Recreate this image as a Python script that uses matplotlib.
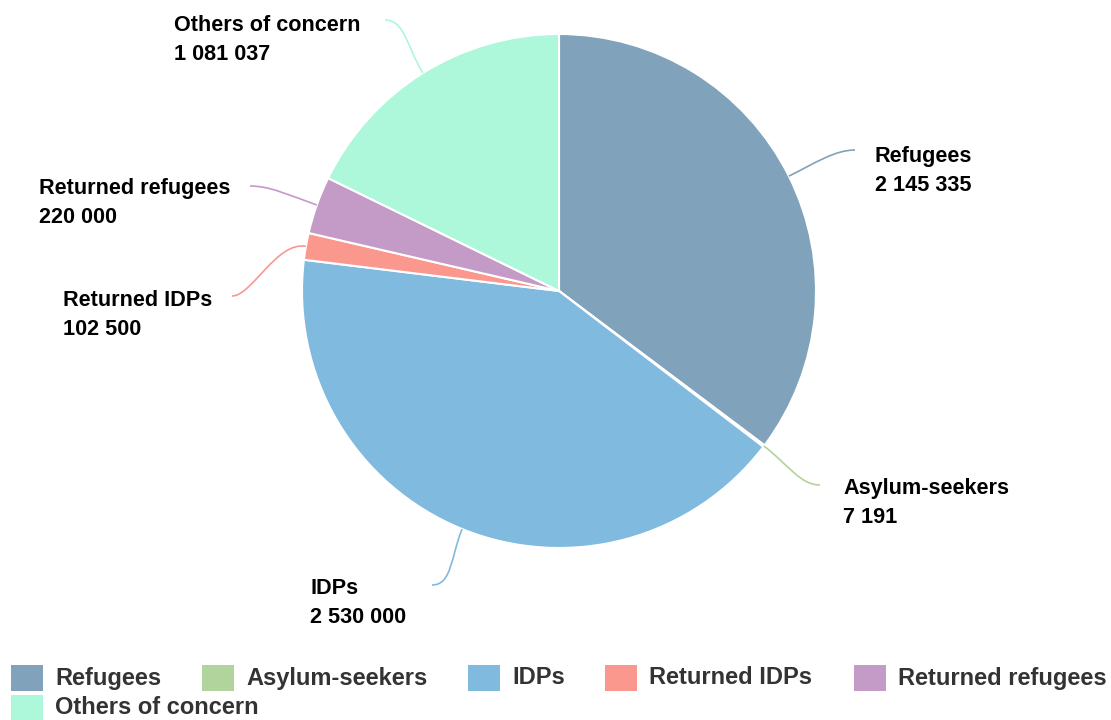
import numpy as np
import matplotlib
matplotlib.use("Agg")
import matplotlib.pyplot as plt
from matplotlib.path import Path
from matplotlib.patches import PathPatch, Rectangle

# data
categories = ["Refugees", "Asylum-seekers", "IDPs", "Returned IDPs",
              "Returned refugees", "Others of concern"]
values = [2145335, 7191, 2530000, 102500, 220000, 1081037]
value_labels = ["2 145 335", "7 191", "2 530 000", "102 500", "220 000", "1 081 037"]
colors = ["#80a3bb", "#b0d49b", "#80bade", "#fa988e", "#c49ac6", "#adf7da"]

# layout (pixels, origin top-left)
W, H = 1111, 720
cx, cy, R = 559, 291, 257
line_ends = [(855, 150), (820, 485), (432, 585), (232, 296), (250, 186), (385, 20)]
text_pos = [(875, 171, "left"), (843, 503, "left"), (310, 603, "left"),
            (212, 315, "right"), (230, 203, "right"), (360, 40, "right")]

fig = plt.figure(figsize=(W / 100, H / 100), dpi=100)
ax = fig.add_axes([0, 0, 1, 1])
ax.axis("off")

wedges, _ = ax.pie(values, colors=colors, startangle=90, counterclock=False,
                   center=(cx, H - cy), radius=R,
                   wedgeprops=dict(edgecolor="white", linewidth=1.5))
ax.set_xlim(0, W)
ax.set_ylim(0, H)
ax.set_aspect("equal")

font = ["Liberation Sans", "DejaVu Sans"]

for i, w in enumerate(wedges):
    mid = np.deg2rad((w.theta1 + w.theta2) / 2)
    dx, dy = np.cos(mid), np.sin(mid)
    p0 = (cx + R * dx, H - cy + R * dy)
    p1 = (cx + (R + 30) * dx, H - cy + (R + 30) * dy)
    ex, ey = line_ends[i]
    ey = H - ey
    side = 1 if ex > cx else -1
    p2 = (ex - side * 20, ey)
    p3 = (ex, ey)
    path = Path([p0, p1, p2, p3], [Path.MOVETO, Path.CURVE4, Path.CURVE4, Path.CURVE4])
    ax.add_patch(PathPatch(path, fill=False, edgecolor=colors[i], linewidth=1.2))
    tx, ty, ha = text_pos[i]
    ax.text(tx, H - ty, categories[i] + "\n" + value_labels[i], ha=ha, va="center",
            multialignment="left", fontsize=15.6, fontweight="bold", family=font,
            color="black", linespacing=1.5)

# legend
legend_x = [11, 202, 468, 605, 854, 11]
legend_y = [678, 678, 678, 678, 678, 708]
for i, name in enumerate(categories):
    x, y = legend_x[i], legend_y[i]
    ax.add_patch(Rectangle((x, H - y - 13), 32, 26, facecolor=colors[i],
                           edgecolor="none", clip_on=False))
    ax.text(x + 44, H - y, name, ha="left", va="center", fontsize=17,
            fontweight="bold", family=font, color="#333333")

fig.savefig("out.png", dpi=100)
